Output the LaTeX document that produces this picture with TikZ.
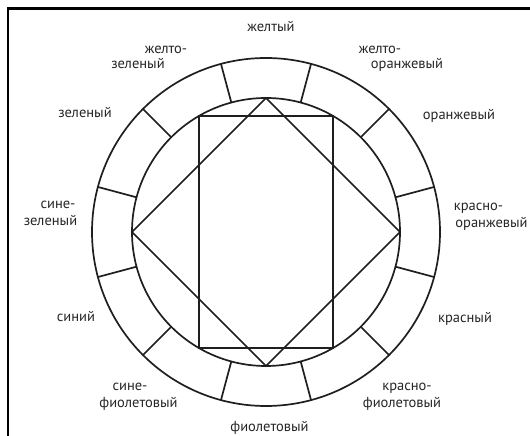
\documentclass[tikz,border=0pt]{standalone}
\usepackage{fontspec}
\setmainfont{PT Sans}
\begin{document}
\begin{tikzpicture}[x=1pt,y=1pt,
  wheel/.style={circle, draw=black!88, line width=1.7pt, inner sep=0pt, outer sep=0pt},
  seg/.style={draw=black!88, line width=1.7pt},
  frameline/.style={draw=black, line width=2.6pt},
  lbl/.style={font=\fontsize{14.5}{16}\selectfont, text=black!85, inner sep=0pt, text height=1ex, text depth=0pt}]
\useasboundingbox (0,0) rectangle (530,436);
\fill[white] (0,0) rectangle (530,436);
% frame
\coordinate (tl) at (8,427.5);
\coordinate (tr) at (531,427.5);
\coordinate (bl) at (8,-1);
\draw[frameline] (tr) -- (tl) -- (bl);
% wheel
\coordinate (c) at (266,204);
\node[wheel, minimum size=348pt] (outer) at (c) {};
\node[wheel, minimum size=268pt] (inner) at (c) {};
\foreach \a in {15,45,...,345} {
  \draw[seg] (inner.\a) -- (outer.\a);
}
% diamond
\draw[seg, line join=miter] (inner.90) -- (inner.0) -- (inner.270) -- (inner.180) -- cycle;
% rectangle
\draw[seg, line join=miter] (inner.60) -- (inner.120) -- (inner.240) -- (inner.300) -- cycle;
% labels
\node[lbl] (l1) at (271,407) {желтый};
\node[lbl] (l2a) at (166,385) {желто-};
\node[lbl] (l2b) at (138,370) {зеленый};
\node[lbl] (l3a) at (380,385) {желто-};
\node[lbl] (l3b) at (407,370) {оранжевый};
\node[lbl] (l4) at (85,321) {зеленый};
\node[lbl] (l5) at (459,319) {оранжевый};
\node[lbl] (l6a) at (58,230) {сине-};
\node[lbl] (l6b) at (50.5,213) {зеленый};
\node[lbl] (l7a) at (478.5,228) {красно-};
\node[lbl] (l7b) at (491.5,211) {оранжевый};
\node[lbl] (l8) at (76,117) {синий};
\node[lbl] (l9) at (465,116) {красный};
\node[lbl] (l10a) at (130,48) {сине-};
\node[lbl] (l10b) at (138.5,31) {фиолетовый};
\node[lbl] (l11a) at (407,48) {красно-};
\node[lbl] (l11b) at (402,31) {фиолетовый};
\node[lbl] (l12) at (269.5,7) {фиолетовый};
\end{tikzpicture}
\end{document}
